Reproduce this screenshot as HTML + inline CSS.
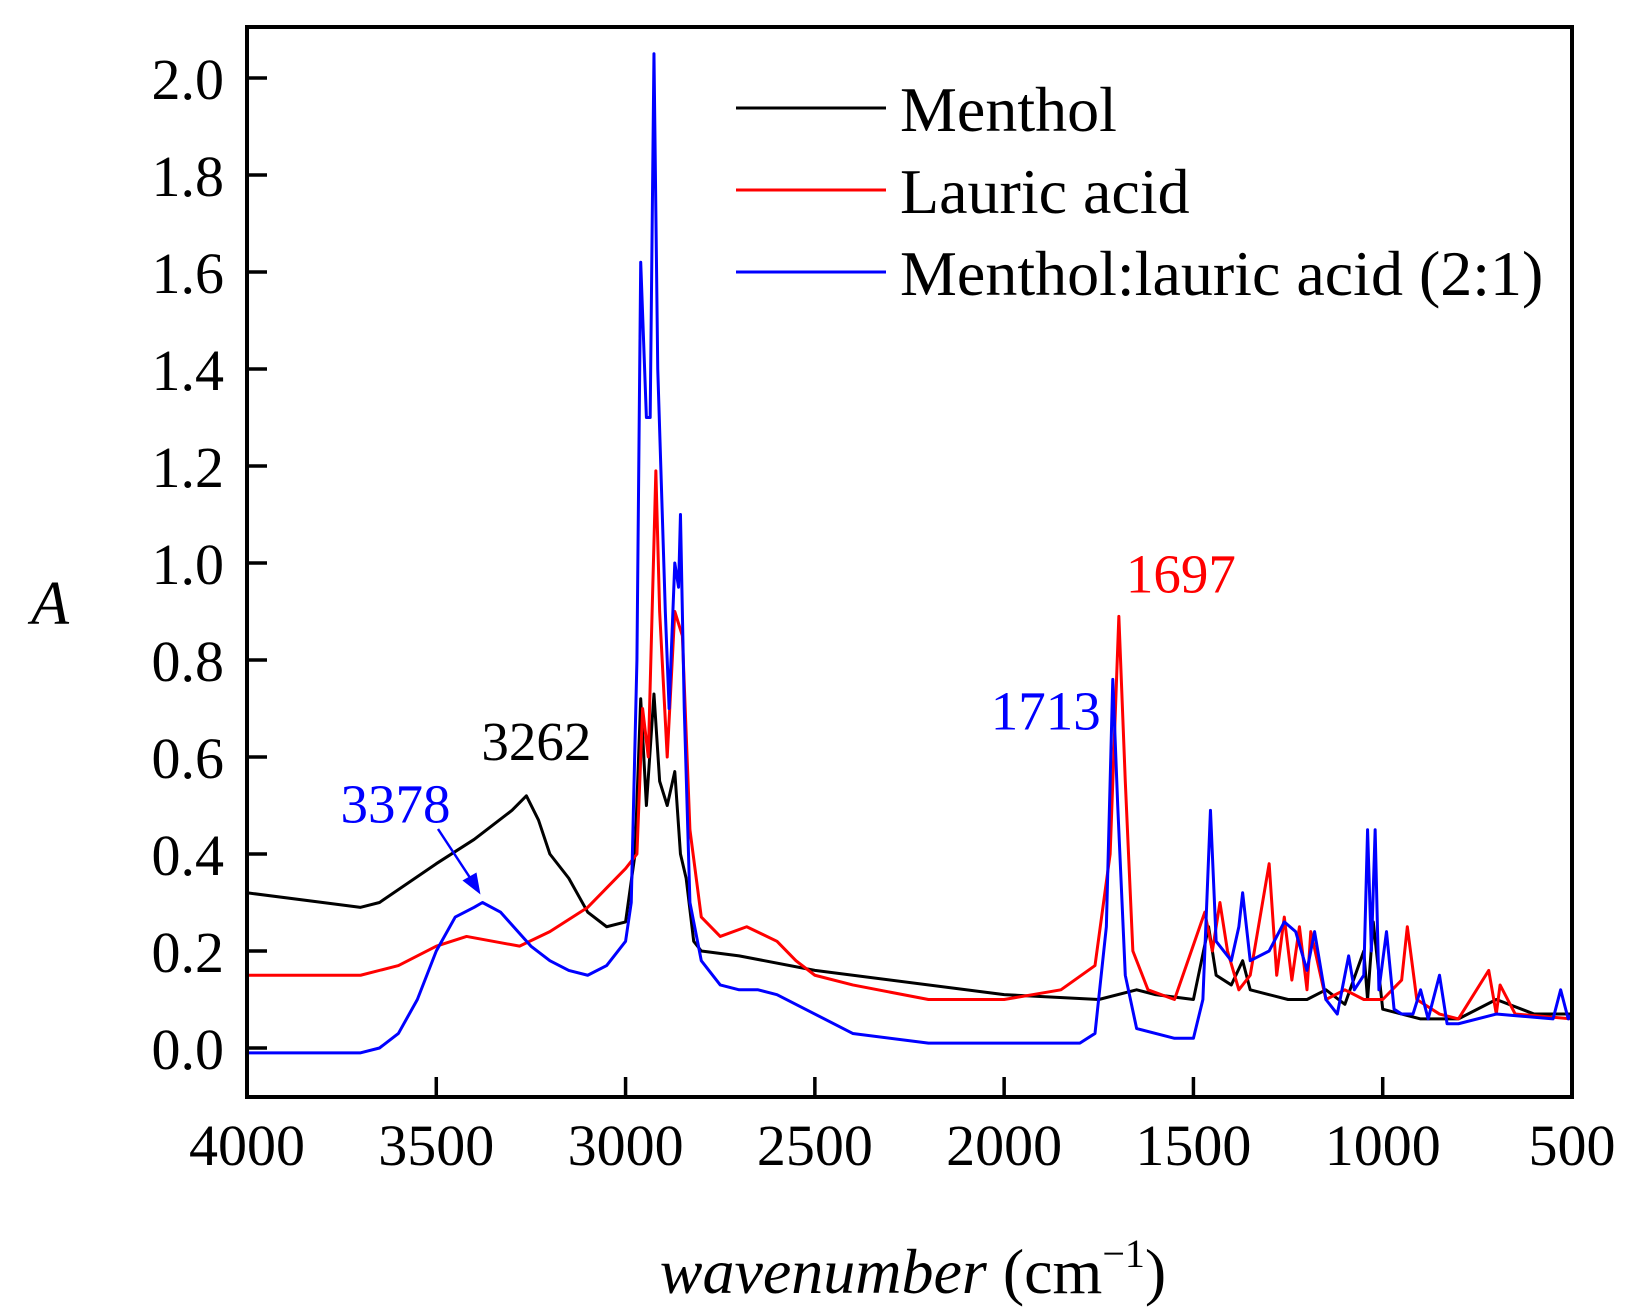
<!DOCTYPE html>
<html><head><meta charset="utf-8"><style>
body{margin:0;background:#fff}
svg{display:block;font-family:"Liberation Serif",serif}
</style></head><body>
<svg id="c" width="1637" height="1315" viewBox="0 0 1637 1315">
<g id="plot"></g>
</svg>
<script>
const xTicks=[4000,3500,3000,2500,2000,1500,1000,500];
const yTicks=[0.0,0.2,0.4,0.6,0.8,1.0,1.2,1.4,1.6,1.8,2.0];
const seriesNames=["Menthol","Lauric acid","Menthol:lauric acid (2:1)"];
const seriesColors=["#000","#f00","#00f"];
const mentholWn=[4000,3800,3700,3650,3500,3400,3300,3262,3230,3200,3150,3100,3050,3000,2975,2960,2945,2925,2910,2890,2870,2855,2840,2820,2800,2700,2500,2000,1750,1650,1600,1500,1460,1440,1400,1370,1350,1300,1250,1200,1150,1100,1050,1040,1025,1000,950,900,800,700,600,500];
const mentholA=[0.32,0.30,0.29,0.30,0.38,0.43,0.49,0.52,0.47,0.40,0.35,0.28,0.25,0.26,0.40,0.72,0.50,0.73,0.55,0.50,0.57,0.40,0.35,0.22,0.20,0.19,0.16,0.11,0.10,0.12,0.11,0.10,0.25,0.15,0.13,0.18,0.12,0.11,0.10,0.10,0.12,0.09,0.20,0.10,0.26,0.08,0.07,0.06,0.06,0.10,0.07,0.07];
const lauricWn=[4000,3700,3600,3500,3420,3350,3280,3200,3100,3050,3000,2970,2955,2940,2920,2910,2890,2870,2850,2830,2800,2750,2680,2600,2550,2500,2400,2200,2000,1850,1760,1720,1697,1680,1660,1620,1550,1470,1450,1430,1410,1380,1350,1300,1280,1260,1240,1220,1200,1190,1150,1100,1050,1000,950,935,910,850,800,720,700,690,650,500];
const lauricA=[0.15,0.15,0.17,0.21,0.23,0.22,0.21,0.24,0.29,0.33,0.37,0.40,0.70,0.60,1.19,0.90,0.60,0.90,0.85,0.45,0.27,0.23,0.25,0.22,0.18,0.15,0.13,0.10,0.10,0.12,0.17,0.40,0.89,0.55,0.20,0.12,0.10,0.28,0.20,0.30,0.20,0.12,0.15,0.38,0.15,0.27,0.14,0.25,0.12,0.24,0.10,0.12,0.10,0.10,0.14,0.25,0.10,0.07,0.06,0.16,0.07,0.13,0.07,0.06];
const mixWn=[4000,3700,3650,3600,3550,3500,3450,3400,3378,3330,3250,3200,3150,3100,3050,3000,2985,2970,2960,2945,2935,2925,2915,2895,2885,2870,2860,2855,2845,2830,2800,2750,2700,2650,2600,2500,2400,2200,2000,1800,1760,1730,1713,1700,1680,1650,1550,1500,1475,1455,1440,1400,1380,1370,1350,1300,1260,1230,1200,1180,1150,1120,1090,1075,1050,1040,1030,1020,1010,990,970,950,920,900,880,850,830,800,700,550,530,510,500];
const mixA=[-0.01,-0.01,0.00,0.03,0.10,0.20,0.27,0.29,0.30,0.28,0.21,0.18,0.16,0.15,0.17,0.22,0.30,0.80,1.62,1.30,1.30,2.05,1.40,0.90,0.70,1.00,0.95,1.10,0.70,0.30,0.18,0.13,0.12,0.12,0.11,0.07,0.03,0.01,0.01,0.01,0.03,0.25,0.76,0.50,0.15,0.04,0.02,0.02,0.10,0.49,0.22,0.18,0.25,0.32,0.18,0.20,0.26,0.24,0.16,0.24,0.10,0.07,0.19,0.12,0.15,0.45,0.20,0.45,0.12,0.24,0.08,0.07,0.07,0.12,0.06,0.15,0.05,0.05,0.07,0.06,0.12,0.06,0.07];
const annotations=[{t:"3262",wn:3262,a:0.52,c:"#000"},{t:"3378",wn:3378,a:0.30,c:"#00f"},{t:"1713",wn:1713,a:0.76,c:"#00f"},{t:"1697",wn:1697,a:0.89,c:"#f00"}];

const L=247,R=1572,T=27,B=1097;
const xS=w=>L+(4000-w)*(R-L)/3500;
const yS=a=>1048-485*a;
const NS="http://www.w3.org/2000/svg";
const svg=document.getElementById('c'),g=document.getElementById('plot');
function mk(tag,at,par){const e=document.createElementNS(NS,tag);for(const k in at)e.setAttribute(k,at[k]);(par||g).appendChild(e);return e;}

const data=[[mentholWn,mentholA],[lauricWn,lauricA],[mixWn,mixA]];
data.forEach((d,i)=>{
 const p=mk('polyline',{points:d[0].map((w,j)=>xS(w)+','+yS(d[1][j])).join(' '),fill:'none',stroke:seriesColors[i],'stroke-width':3,'stroke-linejoin':'round'});
 
 
});

const fr=mk('rect',{x:L,y:T,width:R-L,height:B-T,fill:'none',stroke:'#000','stroke-width':4});



xTicks.forEach(w=>{
 const x=xS(w);
 const tk=mk('line',{x1:x,x2:x,y1:B,y2:B-20,stroke:'#000','stroke-width':3.5});
 
 
 const t=mk('text',{x:x,y:1165,'font-size':58,'text-anchor':'middle'});t.textContent=w;
 
 
});
yTicks.forEach(a=>{
 const y=yS(a);
 const tk=mk('line',{x1:L,x2:L+20,y1:y,y2:y,stroke:'#000','stroke-width':3.5});
 
 
 const t=mk('text',{x:224,y:y+21,'font-size':58,'text-anchor':'end'});t.textContent=a.toFixed(1);
 
 
});

const yt=mk('text',{x:50,y:624,'font-size':62,'font-style':'italic','text-anchor':'middle'});yt.textContent='A';


const xt=mk('text',{x:913,y:1293,'font-size':64,'text-anchor':'middle'});
xt.innerHTML='<tspan font-style="italic">wavenumber</tspan> (cm<tspan dy="-26" font-size="40">−1</tspan><tspan dy="26">)</tspan>';



seriesNames.forEach((n,i)=>{
 const y=108+i*82;
 const ln=mk('line',{x1:736,x2:886,y1:y,y2:y,stroke:seriesColors[i],'stroke-width':3});
 
 
 const t=mk('text',{x:900,y:y+23,'font-size':64});t.textContent=n;
 
 
});

const offs={"3262":[10,-36],"3378":[-87,-80],"1713":[-67,50],"1697":[62,-24]};
annotations.forEach(a=>{
 const o=offs[a.t];
 const t=mk('text',{x:xS(a.wn)+o[0],y:yS(a.a)+o[1],'font-size':55,fill:a.c,'text-anchor':'middle'});t.textContent=a.t;
 
 
});
const ax1=438,ay1=829,ax2=xS(3378)-2,ay2=yS(0.30)-8;
const ar=mk('line',{x1:ax1,y1:ay1,x2:ax2-6,y2:ay2-10,stroke:'#00f','stroke-width':2.5});


const ah=mk('polygon',{points:`${ax2},${ay2} ${ax2-18},${ay2-14} ${ax2-4},${ay2-22}`,fill:'#00f'});


</script>
</body></html>
